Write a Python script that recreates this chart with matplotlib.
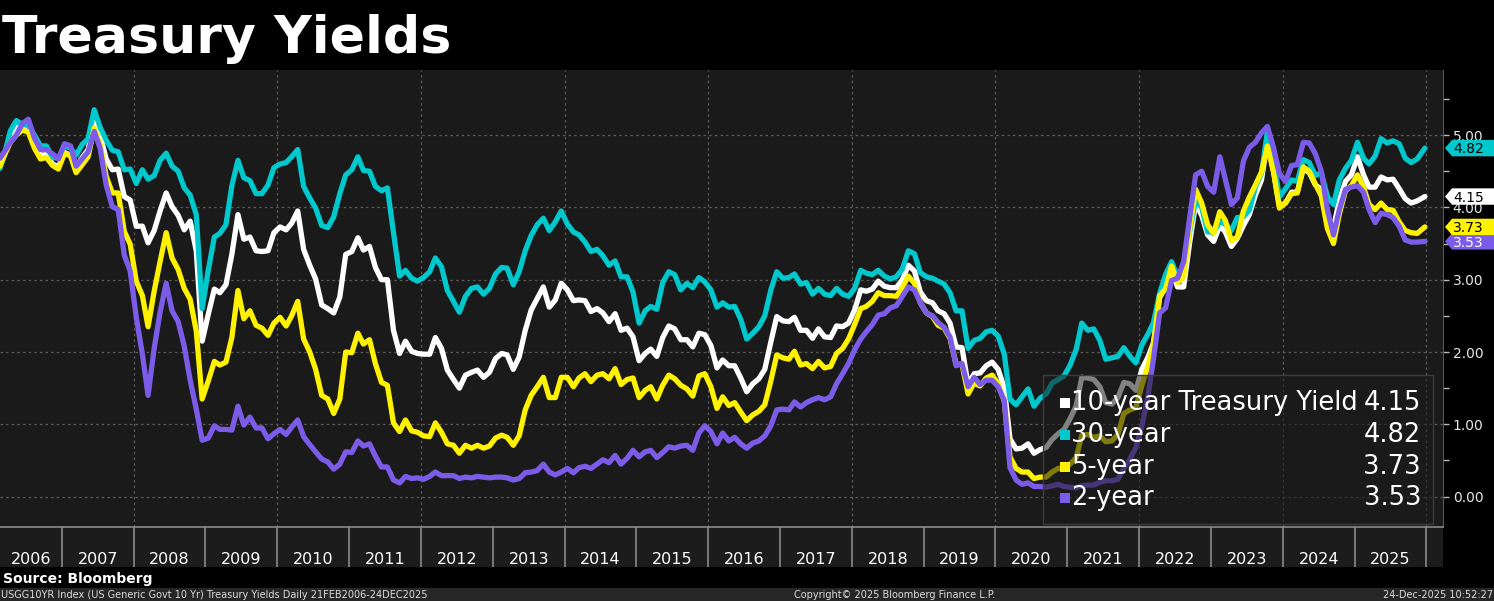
import numpy as np
import pandas as pd
import matplotlib
matplotlib.use("Agg")
import matplotlib.pyplot as plt
from matplotlib.patches import Rectangle, Polygon
import matplotlib.transforms as mtransforms

# ---------------- data (monthly readings, Feb 2006 - Dec 2025) ----------------
ten_year = [
    4.57, 4.72, 4.99, 5.11, 5.11, 5.09, 4.88, 4.72, 4.73, 4.60, 4.56,
    4.76, 4.72, 4.56, 4.69, 4.80, 5.20, 5.00, 4.67, 4.52, 4.53, 4.15, 4.10,
    3.74, 3.74, 3.51, 3.68, 3.95, 4.20, 4.01, 3.89, 3.69, 3.81, 3.40, 2.15,
    2.52, 2.87, 2.82, 2.93, 3.35, 3.90, 3.56, 3.59, 3.40, 3.39, 3.40, 3.65,
    3.73, 3.69, 3.78, 3.95, 3.42, 3.20, 3.01, 2.65, 2.60, 2.54, 2.76, 3.35,
    3.39, 3.58, 3.41, 3.46, 3.17, 3.00, 3.00, 2.30, 1.98, 2.15, 2.01, 1.98,
    1.97, 1.97, 2.20, 2.05, 1.75, 1.62, 1.50, 1.68, 1.72, 1.75, 1.65, 1.72,
    1.91, 1.98, 1.96, 1.76, 1.93, 2.30, 2.58, 2.74, 2.90, 2.62, 2.72, 2.95,
    2.86, 2.71, 2.72, 2.71, 2.56, 2.60, 2.54, 2.42, 2.53, 2.30, 2.33, 2.21,
    1.88, 1.98, 2.04, 1.94, 2.20, 2.36, 2.32, 2.17, 2.17, 2.07, 2.26, 2.24,
    2.09, 1.78, 1.89, 1.81, 1.81, 1.64, 1.45, 1.56, 1.63, 1.76, 2.14, 2.49,
    2.43, 2.42, 2.48, 2.30, 2.30, 2.19, 2.32, 2.21, 2.20, 2.36, 2.35, 2.40,
    2.58, 2.86, 2.84, 2.87, 2.98, 2.91, 2.89, 2.89, 3.00, 3.20, 3.12, 2.83,
    2.71, 2.68, 2.57, 2.53, 2.40, 2.07, 2.06, 1.55, 1.70, 1.71, 1.81, 1.86,
    1.76, 1.50, 0.80, 0.66, 0.67, 0.73, 0.60, 0.65, 0.68, 0.79, 0.87, 0.93,
    1.08, 1.26, 1.65, 1.64, 1.62, 1.52, 1.30, 1.28, 1.37, 1.58, 1.56, 1.47,
    1.76, 1.93, 2.13, 2.75, 2.90, 3.14, 2.90, 2.90, 3.52, 4.05, 3.89, 3.62,
    3.53, 3.75, 3.66, 3.46, 3.57, 3.75, 3.90, 4.17, 4.38, 4.92, 4.50, 4.02,
    4.06, 4.21, 4.21, 4.54, 4.48, 4.31, 4.25, 3.87, 3.72, 4.10, 4.36, 4.45,
    4.70, 4.45, 4.28, 4.28, 4.42, 4.38, 4.39, 4.26, 4.12, 4.06, 4.09, 4.15,
]
thirty_year = [
    4.54, 4.73, 5.06, 5.20, 5.15, 5.13, 5.00, 4.85, 4.85, 4.69, 4.68,
    4.85, 4.82, 4.72, 4.87, 4.95, 5.35, 5.11, 4.93, 4.79, 4.77, 4.52, 4.53,
    4.33, 4.52, 4.39, 4.44, 4.65, 4.75, 4.57, 4.50, 4.27, 4.17, 3.90, 2.60,
    3.13, 3.59, 3.64, 3.76, 4.30, 4.65, 4.41, 4.37, 4.19, 4.19, 4.31, 4.55,
    4.60, 4.62, 4.70, 4.80, 4.29, 4.13, 3.99, 3.75, 3.72, 3.87, 4.19, 4.45,
    4.52, 4.70, 4.51, 4.50, 4.29, 4.23, 4.27, 3.65, 3.05, 3.13, 3.02, 2.98,
    3.03, 3.11, 3.30, 3.18, 2.85, 2.70, 2.55, 2.77, 2.88, 2.90, 2.80, 2.88,
    3.08, 3.17, 3.16, 2.93, 3.11, 3.40, 3.61, 3.76, 3.85, 3.68, 3.80, 3.95,
    3.77, 3.66, 3.62, 3.52, 3.39, 3.42, 3.33, 3.20, 3.26, 3.04, 3.04, 2.83,
    2.40, 2.57, 2.63, 2.59, 2.96, 3.11, 3.07, 2.86, 2.95, 2.89, 3.03, 2.97,
    2.86, 2.62, 2.68, 2.62, 2.63, 2.45, 2.18, 2.26, 2.35, 2.50, 2.86, 3.11,
    3.02, 3.03, 3.08, 2.94, 2.96, 2.80, 2.88, 2.80, 2.78, 2.88, 2.80, 2.77,
    2.88, 3.13, 3.09, 3.07, 3.13, 3.05, 3.01, 3.04, 3.15, 3.40, 3.36, 3.10,
    3.04, 3.02, 2.98, 2.94, 2.82, 2.57, 2.57, 2.05, 2.16, 2.19, 2.28, 2.30,
    2.22, 1.97, 1.35, 1.27, 1.38, 1.49, 1.25, 1.36, 1.42, 1.57, 1.62, 1.67,
    1.82, 2.04, 2.40, 2.30, 2.32, 2.16, 1.90, 1.92, 1.94, 2.06, 1.94, 1.85,
    2.10, 2.25, 2.41, 2.81, 3.07, 3.25, 3.04, 3.19, 3.66, 4.10, 4.00, 3.66,
    3.66, 3.80, 3.77, 3.68, 3.86, 3.87, 3.96, 4.28, 4.47, 5.05, 4.66, 4.14,
    4.26, 4.38, 4.36, 4.66, 4.62, 4.44, 4.48, 4.15, 4.04, 4.38, 4.54, 4.65,
    4.90, 4.68, 4.60, 4.71, 4.95, 4.89, 4.92, 4.88, 4.68, 4.62, 4.67, 4.82,
]
five_year = [
    4.57, 4.72, 4.90, 5.00, 5.07, 5.04, 4.82, 4.67, 4.69, 4.58, 4.53,
    4.75, 4.71, 4.48, 4.59, 4.70, 5.10, 4.88, 4.43, 4.20, 4.20, 3.67, 3.49,
    2.98, 2.78, 2.35, 2.84, 3.25, 3.65, 3.30, 3.14, 2.88, 2.73, 2.29, 1.35,
    1.60, 1.87, 1.82, 1.86, 2.20, 2.85, 2.46, 2.57, 2.37, 2.33, 2.23, 2.40,
    2.48, 2.36, 2.50, 2.70, 2.18, 2.00, 1.76, 1.40, 1.35, 1.15, 1.35, 2.00,
    1.99, 2.26, 2.11, 2.17, 1.84, 1.58, 1.54, 1.02, 0.90, 1.06, 0.91, 0.89,
    0.84, 0.83, 1.02, 0.89, 0.73, 0.71, 0.60, 0.71, 0.67, 0.71, 0.67, 0.70,
    0.81, 0.85, 0.82, 0.71, 0.84, 1.20, 1.40, 1.52, 1.65, 1.37, 1.37, 1.65,
    1.65, 1.52, 1.64, 1.70, 1.59, 1.68, 1.70, 1.63, 1.77, 1.55, 1.62, 1.64,
    1.37, 1.47, 1.52, 1.35, 1.54, 1.68, 1.63, 1.54, 1.49, 1.39, 1.67, 1.70,
    1.52, 1.22, 1.38, 1.26, 1.30, 1.17, 1.05, 1.13, 1.18, 1.27, 1.60, 1.96,
    1.92, 1.90, 2.01, 1.82, 1.84, 1.77, 1.87, 1.78, 1.80, 1.98, 2.05, 2.18,
    2.38, 2.60, 2.63, 2.70, 2.82, 2.78, 2.78, 2.77, 2.89, 3.05, 2.95, 2.68,
    2.54, 2.49, 2.37, 2.33, 2.19, 1.83, 1.83, 1.42, 1.57, 1.53, 1.64, 1.68,
    1.56, 1.32, 0.55, 0.39, 0.34, 0.34, 0.25, 0.27, 0.27, 0.34, 0.39, 0.39,
    0.45, 0.54, 0.85, 0.86, 0.82, 0.84, 0.76, 0.77, 0.86, 1.15, 1.20, 1.23,
    1.54, 1.81, 2.11, 2.78, 2.87, 3.19, 2.96, 3.03, 3.70, 4.25, 4.06, 3.76,
    3.64, 3.94, 3.82, 3.54, 3.59, 3.95, 4.14, 4.31, 4.49, 4.85, 4.49, 3.99,
    4.06, 4.19, 4.20, 4.56, 4.50, 4.32, 4.16, 3.71, 3.50, 3.91, 4.23, 4.30,
    4.45, 4.28, 4.04, 3.97, 4.06, 3.97, 3.96, 3.80, 3.68, 3.65, 3.64, 3.73,
]
two_year = [
    4.68, 4.77, 4.90, 5.00, 5.16, 5.22, 4.96, 4.80, 4.80, 4.74, 4.67,
    4.88, 4.85, 4.57, 4.67, 4.77, 5.05, 4.82, 4.31, 4.01, 3.97, 3.34, 3.12,
    2.48, 1.97, 1.40, 2.05, 2.55, 2.95, 2.57, 2.42, 2.08, 1.61, 1.21, 0.78,
    0.81, 0.98, 0.93, 0.93, 0.92, 1.25, 0.99, 1.10, 0.95, 0.95, 0.80, 0.87,
    0.93, 0.86, 0.96, 1.06, 0.83, 0.72, 0.62, 0.52, 0.48, 0.38, 0.45, 0.62,
    0.61, 0.77, 0.70, 0.73, 0.56, 0.41, 0.41, 0.23, 0.19, 0.28, 0.25, 0.26,
    0.24, 0.28, 0.34, 0.29, 0.29, 0.29, 0.25, 0.27, 0.26, 0.28, 0.27, 0.26,
    0.27, 0.27, 0.26, 0.23, 0.25, 0.33, 0.34, 0.36, 0.45, 0.34, 0.30, 0.34,
    0.39, 0.33, 0.40, 0.42, 0.39, 0.45, 0.51, 0.47, 0.57, 0.45, 0.53, 0.64,
    0.55, 0.62, 0.64, 0.54, 0.61, 0.69, 0.67, 0.70, 0.71, 0.64, 0.88, 0.98,
    0.90, 0.73, 0.88, 0.77, 0.82, 0.73, 0.67, 0.74, 0.77, 0.84, 0.98, 1.20,
    1.21, 1.20, 1.31, 1.24, 1.30, 1.34, 1.37, 1.34, 1.38, 1.56, 1.70, 1.84,
    2.03, 2.18, 2.28, 2.38, 2.51, 2.53, 2.61, 2.64, 2.77, 2.90, 2.86, 2.68,
    2.54, 2.50, 2.41, 2.34, 2.21, 1.81, 1.84, 1.52, 1.65, 1.55, 1.61, 1.61,
    1.52, 1.33, 0.40, 0.23, 0.17, 0.19, 0.14, 0.14, 0.13, 0.15, 0.17, 0.14,
    0.13, 0.12, 0.15, 0.16, 0.16, 0.20, 0.22, 0.22, 0.24, 0.39, 0.52, 0.68,
    0.98, 1.40, 1.91, 2.54, 2.61, 2.99, 3.02, 3.25, 3.86, 4.45, 4.50, 4.29,
    4.21, 4.70, 4.39, 4.04, 4.13, 4.64, 4.83, 4.90, 5.03, 5.12, 4.83, 4.47,
    4.36, 4.58, 4.59, 4.90, 4.89, 4.74, 4.50, 3.97, 3.62, 3.97, 4.25, 4.28,
    4.30, 4.21, 3.97, 3.79, 3.92, 3.90, 3.86, 3.74, 3.55, 3.52, 3.52, 3.53,
]
series_names = ["10-year Treasury Yield", "30-year", "5-year", "2-year"]
last_values = ["4.15", "4.82", "3.73", "3.53"]
year_labels = list(range(2006, 2026))
y_ticks = [0, 1, 2, 3, 4, 5]

# ---------------- styling ----------------
W, H = 1494, 601
def fx(x):
    return x / W
def fy(y):
    return 1 - y / H

colors = {"10-year Treasury Yield": "#ffffff", "30-year": "#00c8cc",
          "5-year": "#fff200", "2-year": "#7b5ce8"}
values = {"10-year Treasury Yield": ten_year, "30-year": thirty_year,
          "5-year": five_year, "2-year": two_year}

dates = list(pd.date_range("2006-02-01", "2025-12-01", freq="MS") + pd.Timedelta(days=14))
dates[0] = pd.Timestamp("2006-02-21")
dates[-1] = pd.Timestamp("2025-12-24")

x_start = pd.Timestamp("2006-02-21")
x_end = pd.Timestamp("2026-03-26")

fig = plt.figure(figsize=(W / 100, H / 100), dpi=100, facecolor="black")
ax = fig.add_axes([0, fy(527), fx(1443), (527 - 70) / H])
ax.set_facecolor("#1a1a1a")

grid_kw = dict(color="#5a5a5a", lw=0.9, ls=(0, (2, 2.5)), zorder=1)
for yv in y_ticks:
    ax.axhline(yv, **grid_kw)
for yr in range(2008, 2027, 2):
    ax.axvline(pd.Timestamp(f"{yr}-01-01"), **grid_kw)

for i, name in enumerate(series_names):
    ax.plot(dates, values[name], color=colors[name], lw=3.8,
            solid_joinstyle="round", solid_capstyle="round", zorder=3 + i)

ax.set_xlim(x_start, x_end)
ax.set_ylim(-0.42, 5.90)
ax.yaxis.tick_right()
ax.set_yticks(y_ticks)
ax.set_yticklabels([f"{v:.2f}" for v in y_ticks])
ax.set_yticks(np.arange(0.5, 5.6, 1.0), minor=True)
ax.tick_params(axis="y", which="both", colors="#bbbbbb", length=4, width=1,
               direction="out", labelsize=10, pad=3, labelcolor="#e6e6e6")
ax.set_xticks([])
for s in ["top", "left", "bottom"]:
    ax.spines[s].set_visible(False)
ax.spines["right"].set_color("#555555")

# ---------------- year band ----------------
bx = fig.add_axes([0, fy(567), fx(1443), 40 / H])
bx.set_facecolor("#1c1c1c")
bx.set_xlim(x_start, x_end)
bx.set_ylim(0, 1)
bx.set_xticks([])
bx.set_yticks([])
for s in ["left", "right", "bottom"]:
    bx.spines[s].set_visible(False)
bx.spines["top"].set_color("#8a8a8a")
bx.spines["top"].set_linewidth(1.2)
for yr in range(2007, 2027):
    bx.axvline(pd.Timestamp(f"{yr}-01-01"), color="#8a8a8a", lw=1.2)
for yr in year_labels:
    a = max(pd.Timestamp(f"{yr}-01-01"), x_start)
    b = pd.Timestamp(f"{yr + 1}-01-01")
    mid = a + (b - a) / 2
    bx.text(mid, 0.07, str(yr), ha="center", va="baseline", color="white",
            fontsize=11.5)

# ---------------- value tags on the right ----------------
trans = mtransforms.blended_transform_factory(fig.transFigure, ax.transData)
hh = 8.2 / 72.3
tag_order = [("30-year", "black"), ("10-year Treasury Yield", "black"),
             ("2-year", "white"), ("5-year", "black")]
for name, tc in tag_order:
    v = float(last_values[series_names.index(name)])
    pts = [(fx(1445), v), (fx(1452), v + hh), (1.01, v + hh),
           (1.01, v - hh), (fx(1452), v - hh)]
    poly = Polygon(pts, closed=True, transform=trans, facecolor=colors[name],
                   edgecolor="none", clip_on=False, zorder=5)
    fig.add_artist(poly)
    fig.text(fx(1453), v - 1.2 / 72.3, last_values[series_names.index(name)],
             transform=trans, ha="left", va="center", fontsize=10,
             color=tc, zorder=6)

# ---------------- legend ----------------
box = Rectangle((fx(1043), fy(524)), (1433 - 1043) / W, (524 - 375) / H,
                transform=fig.transFigure, facecolor=(0.1, 0.1, 0.1, 0.55),
                edgecolor="#3c3c3c", lw=1, zorder=5)
fig.add_artist(box)
rows = [403, 435, 467, 498]
for name, val, yrow in zip(series_names, last_values, rows):
    sq = Rectangle((fx(1060), fy(yrow + 5)), 10 / W, 10 / H,
                   transform=fig.transFigure, facecolor=colors[name],
                   edgecolor="none", zorder=6)
    fig.add_artist(sq)
    fig.text(fx(1071), fy(yrow), name, ha="left", va="center",
             fontsize=18.5, color="white", zorder=7)
    fig.text(fx(1421), fy(yrow), val, ha="right", va="center",
             fontsize=18.5, color="white", zorder=7)

# ---------------- title & footer ----------------
fig.text(fx(2), fy(53), "Treasury Yields", ha="left", va="baseline",
         fontsize=37.5, fontweight="bold", color="white",
         family="DejaVu Sans")
fig.text(fx(3), fy(583), "Source: Bloomberg", ha="left", va="baseline",
         fontsize=10, fontweight="bold", color="white")
foot = Rectangle((0, 0), 1, 13 / H, transform=fig.transFigure,
                 facecolor="#262626", edgecolor="none", zorder=1)
fig.add_artist(foot)
fig.text(fx(1), fy(598), "USGG10YR Index (US Generic Govt 10 Yr) Treasury Yields Daily 21FEB2006-24DEC2025",
         ha="left", va="baseline", fontsize=7, color="#dddddd", zorder=2)
fig.text(fx(895), fy(598), "Copyright\u00a9 2025 Bloomberg Finance L.P.",
         ha="center", va="baseline", fontsize=7, color="#dddddd", zorder=2)
fig.text(fx(1493), fy(598), "24-Dec-2025 10:52:27",
         ha="right", va="baseline", fontsize=7, color="#dddddd", zorder=2)

fig.savefig("out.png", dpi=100, facecolor="black")
